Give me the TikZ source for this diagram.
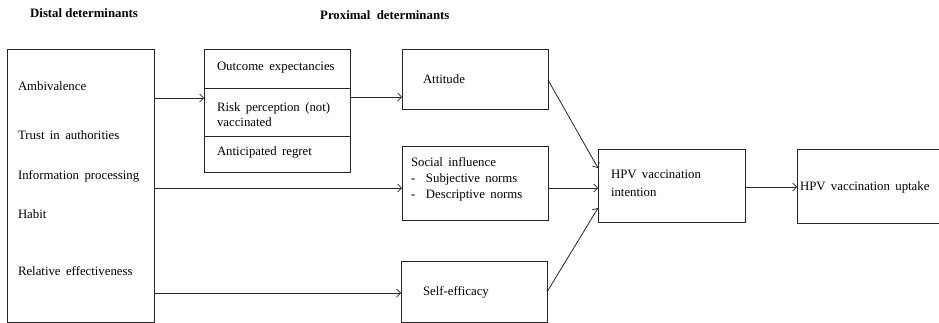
\documentclass[tikz,border=0pt]{standalone}
\usepackage{fontspec}
\setmainfont{Liberation Serif}
\usetikzlibrary{arrows.meta}
\newcommand\lblfont{\fontsize{12.8}{15}\selectfont}
\newcommand\wideskip{\spaceskip=0.42em plus 0.1em\relax}
\tikzset{
  box/.style={draw=black!85, line width=0.9pt, anchor=north west, inner sep=0pt, outer sep=0pt},
  lbl/.style={anchor=west, inner sep=0pt, outer sep=0pt, align=left, font=\lblfont,
    execute at begin node=\wideskip},
  hdr/.style={anchor=west, inner sep=0pt, font=\lblfont\bfseries},
  conn/.style={draw=black!85, line width=0.8pt},
  arr/.style={conn, -{Straight Barb[length=4pt,width=8pt,line width=0.7pt]}}
}
\begin{document}
\begin{tikzpicture}[x=1pt,y=-1pt]
\clip (0,0) rectangle (939,323);
\path[use as bounding box] (0,0) rectangle (939,323);
% headers
\node[hdr] (hd) at (30,13) {Distal determinants};
\node[hdr] (hp) at (320,15) {Proximal\ \ determinants};
% boxes
\node[box, minimum width=147pt, minimum height=273pt] (distal) at (7,49) {};
\node[box, minimum width=146pt, minimum height=123pt] (mid) at (204,49) {};
\node[box, minimum width=146pt, minimum height=60pt] (att) at (402,49) {};
\node[box, minimum width=146pt, minimum height=74pt] (soc) at (402,146) {};
\node[box, minimum width=146pt, minimum height=61pt] (self) at (401,261) {};
\node[box, minimum width=147pt, minimum height=73pt] (int) at (598,149) {};
\node[box, minimum width=170pt, minimum height=74pt] (upt) at (797,149) {};
% dividers of the middle box
\draw[conn] (mid.west |- 0,88) -- (mid.east |- 0,88);
\draw[conn] (mid.west |- 0,136) -- (mid.east |- 0,136);
% distal texts
\node[lbl] (t1) at (18,86) {Ambivalence};
\node[lbl] (t2) at (18,135) {Trust in authorities};
\node[lbl] (t3) at (18,176) {Information processing};
\node[lbl] (t4) at (18,214) {Habit};
\node[lbl] (t5) at (18,271) {Relative effectiveness};
% middle texts
\node[lbl] (m1) at (217,68) {Outcome expectancies};
\node[lbl] (m2) at (217,114.5) {Risk perception (not)\\vaccinated};
\node[lbl] (m3) at (217,152) {Anticipated regret};
% proximal texts
\node[lbl] (a1) at (423,79) {Attitude};
\node[lbl, font=\fontsize{12.8}{16}\selectfont] (s1) at (411,179)
  {Social influence\\\makebox[15pt][l]{-}Subjective norms\\\makebox[15pt][l]{-}Descriptive norms};
\node[lbl] (e1) at (423,292) {Self-efficacy};
\node[lbl, font=\fontsize{12.8}{18}\selectfont] (i1) at (611,183) {HPV vaccination\\intention};
\node[lbl] (u1) at (800,187) {HPV vaccination uptake};
% connectors
\draw[arr] (distal.east |- 0,98) -- (mid.west |- 0,98);
\draw[arr] (mid.east |- 0,97) -- (att.west |- 0,97);
\draw[arr] (distal.east |- 0,188) -- (soc.west |- 0,188);
\draw[arr] (distal.east |- 0,293) -- (self.west |- 0,293);
\draw[arr] (att.east |- 0,80) -- (int.west |- 0,168);
\draw[arr] (soc.east |- 0,188) -- (int.west |- 0,188);
\draw[arr] (self.east |- 0,292) -- (int.west |- 0,208);
\draw[arr] (int.east |- 0,187) -- (upt.west |- 0,187);
\end{tikzpicture}
\end{document}
